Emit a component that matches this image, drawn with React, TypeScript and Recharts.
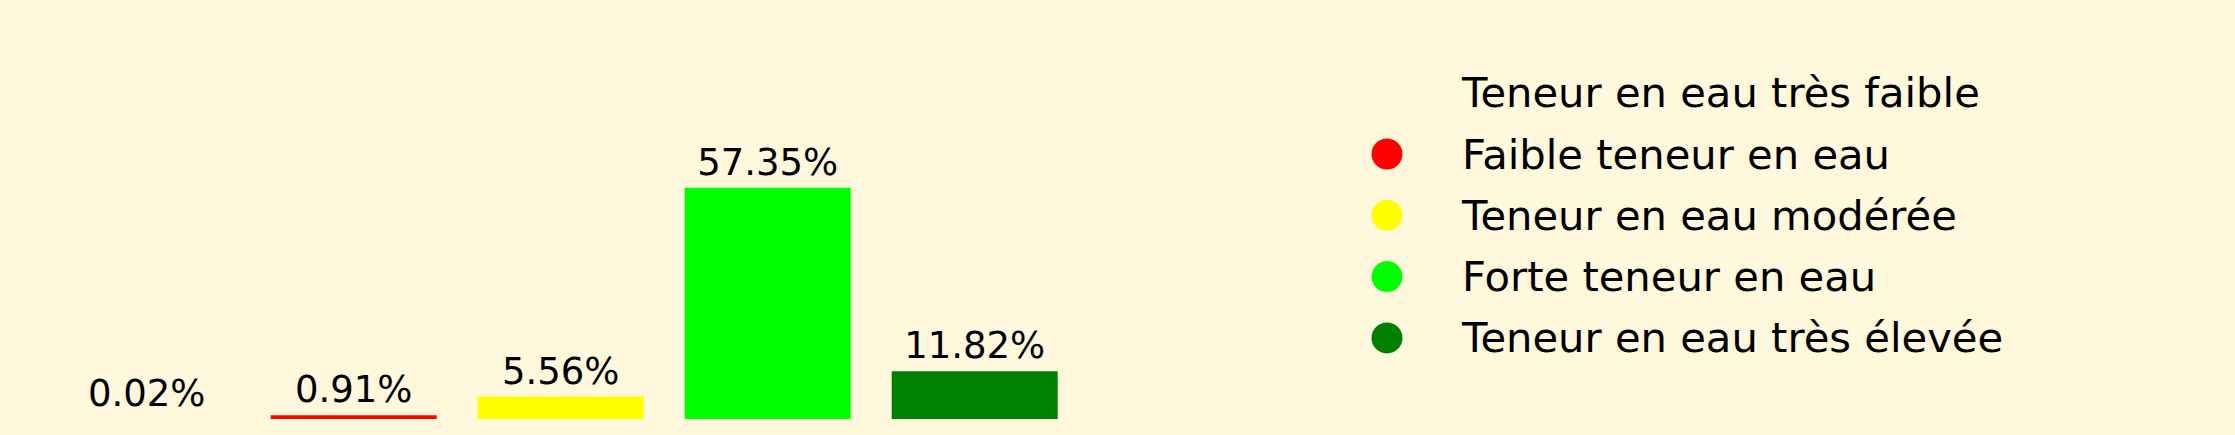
import { BarChart, Bar, XAxis, YAxis, Cell, LabelList, Legend } from 'recharts';

const categories = [
  'Teneur en eau très faible',
  'Faible teneur en eau',
  'Teneur en eau modérée',
  'Forte teneur en eau',
  'Teneur en eau très élevée',
];
const shares = [0.02, 0.91, 5.56, 57.35, 11.82];
const colors = ['#fff8dc', '#ff0000', '#ffff00', '#00ff00', '#008000'];

const data = categories.map((name, i) => ({ name, value: shares[i] }));

const FONT = '"DejaVu Sans", sans-serif';
const BG = '#fff8dc';

function LegendBox() {
  return (
    <svg width={700} height={320}>
      {categories.map((name, i) => (
        <g key={name} transform={`translate(0, ${42.7 + i * 61.3})`}>
          <circle cx={27} cy={0} r={15.5} fill={colors[i]} />
          <text x={102} y={0} dominantBaseline="central" fontSize={41.7} fontFamily={FONT} fill="#000">
            {name}
          </text>
        </g>
      ))}
    </svg>
  );
}

export default function App() {
  return (
    <div style={{ position: 'absolute', left: 0, top: 0, width: 2235, height: 435, background: BG }}>
      <BarChart
        width={2235}
        height={435}
        data={data}
        margin={{ top: 177, right: 1157, bottom: 16, left: 43 }}
        barCategoryGap="10%"
      >
        <XAxis dataKey="name" hide />
        <YAxis hide domain={[0, 60]} />
        <Legend
          layout="vertical"
          align="center"
          verticalAlign="middle"
          content={() => <LegendBox />}
          wrapperStyle={{ left: 1360, top: 50, width: 700, height: 320 }}
        />
        <Bar dataKey="value" isAnimationActive={false}>
          {data.map((d, i) => (
            <Cell key={d.name} fill={colors[i]} />
          ))}
          <LabelList
            dataKey="value"
            position="top"
            offset={13}
            formatter={(v: any) => `${Number(v).toFixed(2)}%`}
            fill="#000"
            fontSize={37}
            fontFamily={FONT}
          />
        </Bar>
      </BarChart>
    </div>
  );
}
